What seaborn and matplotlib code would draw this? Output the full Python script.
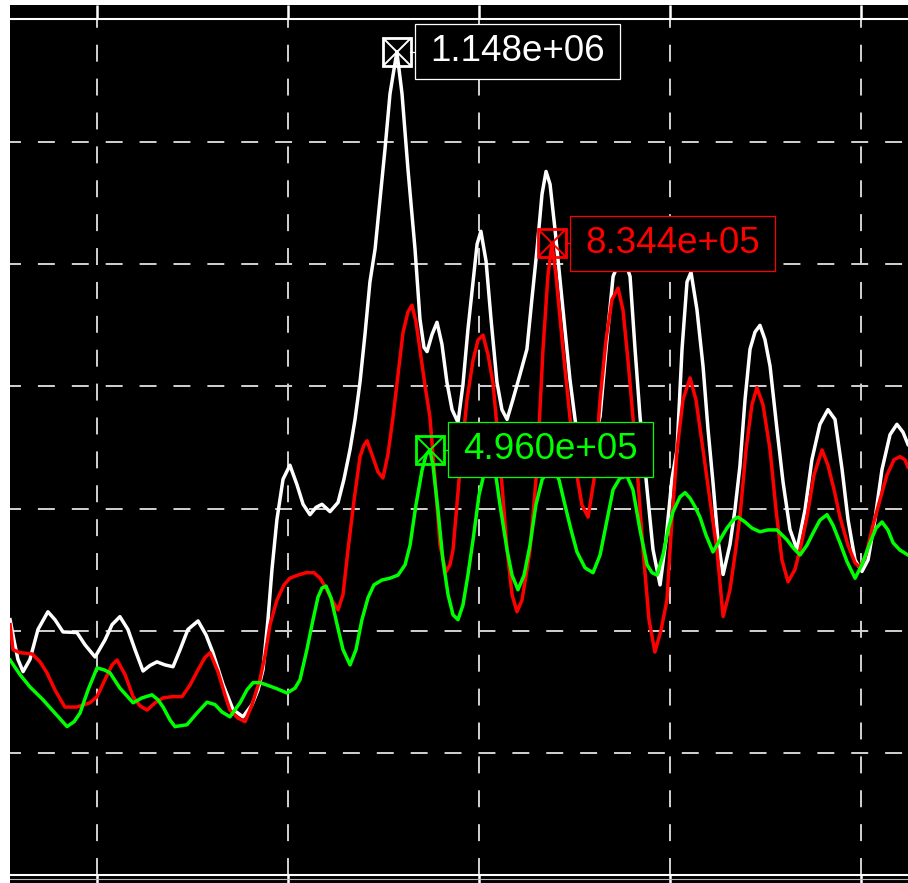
import numpy as np
import pandas as pd
import matplotlib
matplotlib.use('Agg')
import matplotlib.pyplot as plt
import seaborn as sns
from matplotlib.patches import Rectangle
from matplotlib.lines import Line2D
from matplotlib.transforms import IdentityTransform

# trace data (x in grid units, y in counts)
white_x = [0.545, 0.565, 0.586, 0.613, 0.649, 0.691, 0.743, 0.780, 0.822, 0.895, 0.937, 0.990,
           1.042, 1.079, 1.120, 1.162, 1.199, 1.241, 1.277, 1.314, 1.356, 1.398, 1.435, 1.476,
           1.529, 1.571, 1.607, 1.660, 1.712, 1.764, 1.812, 1.843, 1.869, 1.895, 1.916, 1.942,
           1.974, 2.010, 2.047, 2.079, 2.115, 2.147, 2.178, 2.220, 2.262, 2.293, 2.325, 2.351,
           2.377, 2.403, 2.429, 2.456, 2.482, 2.508, 2.534, 2.570, 2.597, 2.628, 2.665, 2.691,
           2.712, 2.728, 2.754, 2.780, 2.806, 2.832, 2.859, 2.890, 2.916, 2.942, 2.969, 2.990,
           3.010, 3.037, 3.063, 3.094, 3.120, 3.147, 3.178, 3.215, 3.251, 3.277, 3.304, 3.330,
           3.351, 3.372, 3.398, 3.424, 3.450, 3.476, 3.503, 3.529, 3.560, 3.592, 3.634, 3.665,
           3.702, 3.738, 3.770, 3.791, 3.817, 3.843, 3.880, 3.911, 3.948, 3.979, 4.010, 4.037,
           4.063, 4.089, 4.110, 4.141, 4.173, 4.199, 4.225, 4.251, 4.278, 4.314, 4.340, 4.366,
           4.393, 4.419, 4.445, 4.471, 4.497, 4.524, 4.560, 4.592, 4.628, 4.665, 4.707, 4.743,
           4.785, 4.827, 4.864, 4.901, 4.932, 4.969, 5.005, 5.037, 5.073, 5.110, 5.152, 5.188,
           5.220, 5.246]
white_y = [218e3, 185e3, 153e3, 133e3, 153e3, 202e3, 231e3, 218e3, 198e3, 197e3, 177e3, 157e3,
           185e3, 210e3, 223e3, 202e3, 169e3, 134e3, 143e3, 149e3, 144e3, 141e3, 169e3, 202e3,
           216e3, 193e3, 164e3, 112e3, 71e3, 59e3, 79e3, 103e3, 136e3, 218e3, 300e3, 382e3,
           448e3, 471e3, 439e3, 407e3, 390e3, 402e3, 407e3, 395e3, 410e3, 448e3, 497e3, 546e3,
           607e3, 685e3, 771e3, 825e3, 907e3, 989e3, 1079e3, 1148e3, 1079e3, 956e3, 825e3, 710e3,
           664e3, 657e3, 685e3, 705e3, 669e3, 607e3, 562e3, 541e3, 603e3, 693e3, 771e3, 833e3,
           854e3, 805e3, 710e3, 607e3, 562e3, 546e3, 579e3, 620e3, 661e3, 743e3, 825e3, 915e3,
           952e3, 931e3, 857e3, 775e3, 693e3, 612e3, 546e3, 489e3, 464e3, 497e3, 551e3, 661e3,
           780e3, 808e3, 800e3, 780e3, 661e3, 551e3, 431e3, 333e3, 275e3, 349e3, 448e3, 497e3,
           661e3, 771e3, 787e3, 726e3, 633e3, 530e3, 443e3, 349e3, 292e3, 341e3, 398e3, 469e3,
           579e3, 661e3, 689e3, 700e3, 677e3, 633e3, 530e3, 443e3, 366e3, 333e3, 398e3, 480e3,
           538e3, 562e3, 546e3, 464e3, 382e3, 316e3, 297e3, 316e3, 382e3, 464e3, 521e3, 538e3,
           525e3, 505e3]

red_x = [0.545, 0.560, 0.597, 0.660, 0.702, 0.738, 0.780, 0.832, 0.895, 0.963, 1.000, 1.042,
         1.079, 1.105, 1.147, 1.189, 1.225, 1.262, 1.304, 1.346, 1.393, 1.445, 1.487, 1.529,
         1.565, 1.592, 1.633, 1.670, 1.696, 1.738, 1.775, 1.812, 1.853, 1.880, 1.906, 1.942,
         1.979, 2.010, 2.052, 2.094, 2.136, 2.168, 2.199, 2.230, 2.262, 2.288, 2.314, 2.346,
         2.377, 2.398, 2.414, 2.440, 2.471, 2.497, 2.523, 2.550, 2.576, 2.602, 2.628, 2.649,
         2.670, 2.691, 2.717, 2.743, 2.770, 2.796, 2.827, 2.848, 2.864, 2.900, 2.937, 2.969,
         2.995, 3.021, 3.047, 3.073, 3.110, 3.147, 3.173, 3.199, 3.225, 3.251, 3.267, 3.304,
         3.335, 3.361, 3.382, 3.403, 3.440, 3.476, 3.508, 3.539, 3.571, 3.602, 3.634, 3.665,
         3.696, 3.728, 3.754, 3.780, 3.806, 3.832, 3.859, 3.890, 3.921, 3.953, 3.984, 4.010,
         4.037, 4.068, 4.105, 4.136, 4.173, 4.209, 4.246, 4.278, 4.314, 4.340, 4.366, 4.398,
         4.429, 4.455, 4.487, 4.524, 4.555, 4.586, 4.618, 4.654, 4.686, 4.717, 4.754, 4.796,
         4.827, 4.859, 4.890, 4.932, 4.969, 4.995, 5.026, 5.063, 5.099, 5.136, 5.173, 5.204,
         5.230, 5.246]
red_y = [210e3, 169e3, 164e3, 162e3, 149e3, 131e3, 103e3, 75e3, 75e3, 82e3, 92e3, 120e3,
         144e3, 152e3, 128e3, 92e3, 77e3, 70e3, 82e3, 90e3, 92e3, 92e3, 111e3, 136e3,
         156e3, 164e3, 133e3, 95e3, 70e3, 57e3, 51e3, 79e3, 120e3, 160e3, 210e3, 250e3,
         275e3, 286e3, 291e3, 295e3, 295e3, 286e3, 270e3, 250e3, 234e3, 259e3, 332e3, 414e3,
         485e3, 504e3, 511e3, 488e3, 460e3, 450e3, 488e3, 550e3, 619e3, 688e3, 722e3, 733e3,
         706e3, 660e3, 602e3, 550e3, 447e3, 340e3, 296e3, 308e3, 332e3, 463e3, 578e3, 643e3,
         676e3, 684e3, 652e3, 606e3, 480e3, 332e3, 259e3, 231e3, 250e3, 300e3, 332e3, 468e3,
         660e3, 782e3, 834.4e3, 782e3, 660e3, 550e3, 463e3, 406e3, 386e3, 447e3, 578e3, 676e3,
         742e3, 761e3, 725e3, 643e3, 550e3, 447e3, 332e3, 218e3, 165e3, 201e3, 250e3, 381e3,
         496e3, 578e3, 614e3, 578e3, 496e3, 414e3, 332e3, 223e3, 267e3, 324e3, 386e3, 496e3,
         570e3, 598e3, 570e3, 496e3, 398e3, 316e3, 280e3, 300e3, 340e3, 386e3, 455e3, 496e3,
         471e3, 431e3, 386e3, 340e3, 311e3, 304e3, 324e3, 373e3, 414e3, 455e3, 480e3, 485e3,
         480e3, 468e3]

green_x = [0.545, 0.597, 0.649, 0.717, 0.780, 0.843, 0.880, 0.911, 0.953, 1.000, 1.037, 1.068,
           1.120, 1.189, 1.236, 1.288, 1.319, 1.346, 1.382, 1.408, 1.471, 1.523, 1.576, 1.618,
           1.654, 1.696, 1.749, 1.785, 1.817, 1.853, 1.890, 1.942, 1.995, 2.037, 2.063, 2.099,
           2.131, 2.157, 2.178, 2.199, 2.225, 2.257, 2.288, 2.325, 2.356, 2.387, 2.419, 2.450,
           2.492, 2.534, 2.576, 2.613, 2.639, 2.670, 2.702, 2.723, 2.743, 2.759, 2.785, 2.811,
           2.838, 2.864, 2.890, 2.916, 2.942, 2.969, 3.000, 3.031, 3.058, 3.084, 3.110, 3.147,
           3.173, 3.204, 3.236, 3.267, 3.298, 3.330, 3.361, 3.387, 3.419, 3.450, 3.482, 3.513,
           3.555, 3.597, 3.634, 3.670, 3.702, 3.738, 3.775, 3.806, 3.843, 3.880, 3.906, 3.932,
           3.963, 3.990, 4.016, 4.052, 4.079, 4.105, 4.131, 4.157, 4.188, 4.225, 4.262, 4.298,
           4.330, 4.356, 4.393, 4.429, 4.471, 4.513, 4.560, 4.612, 4.644, 4.681, 4.717, 4.749,
           4.785, 4.822, 4.853, 4.890, 4.927, 4.969, 5.005, 5.047, 5.079, 5.110, 5.141, 5.168,
           5.204, 5.246]
green_y = [152e3, 128e3, 108e3, 87e3, 65e3, 43e3, 51e3, 65e3, 103e3, 139e3, 136e3, 131e3,
           106e3, 82e3, 90e3, 95e3, 87e3, 75e3, 54e3, 43e3, 46e3, 65e3, 83e3, 79e3,
           67e3, 59e3, 82e3, 103e3, 115e3, 115e3, 111e3, 105e3, 98e3, 106e3, 120e3, 169e3,
           218e3, 255e3, 270e3, 273e3, 254e3, 210e3, 169e3, 144e3, 169e3, 218e3, 254e3, 275e3,
           283e3, 286e3, 291e3, 308e3, 340e3, 406e3, 463e3, 488e3, 496e3, 471e3, 398e3, 316e3,
           259e3, 226e3, 218e3, 242e3, 291e3, 349e3, 422e3, 463e3, 475e3, 463e3, 406e3, 332e3,
           291e3, 267e3, 291e3, 340e3, 406e3, 447e3, 463e3, 467e3, 447e3, 406e3, 365e3, 329e3,
           303e3, 295e3, 324e3, 381e3, 431e3, 450e3, 453e3, 431e3, 365e3, 308e3, 295e3, 291e3,
           324e3, 365e3, 395e3, 419e3, 426e3, 417e3, 403e3, 386e3, 357e3, 329e3, 349e3, 368e3,
           381e3, 386e3, 378e3, 368e3, 362e3, 365e3, 365e3, 349e3, 336e3, 324e3, 340e3, 360e3,
           381e3, 390e3, 373e3, 344e3, 313e3, 286e3, 308e3, 344e3, 368e3, 378e3, 365e3, 344e3,
           332e3, 324e3]

trace_names = ['ch1', 'ch2', 'ch3']
trace_colors = {'ch1': '#ffffff', 'ch2': '#ff0000', 'ch3': '#00ff00'}

df = pd.concat([
    pd.DataFrame({'x': white_x, 'y': white_y, 'trace': 'ch1'}),
    pd.DataFrame({'x': red_x, 'y': red_y, 'trace': 'ch2'}),
    pd.DataFrame({'x': green_x, 'y': green_y, 'trace': 'ch3'}),
], ignore_index=True)

plt.rcParams['lines.scale_dashes'] = False

W, H = 908, 883
fig = plt.figure(figsize=(W / 100, H / 100), dpi=100, facecolor='black')
ax = fig.add_axes([10 / W, 8 / H, 898 / W, 856 / H])
ax.set_facecolor('black')

sns.lineplot(data=df, x='x', y='y', hue='trace', hue_order=trace_names,
             palette=trace_colors, sort=False, estimator=None,
             linewidth=2.5, legend=False, ax=ax, zorder=3)

ax.set_xlim(0.5445, 5.2461)
ax.set_ylim(-2e5, 1.2016e6)
ax.set_xticks([1, 2, 3, 4, 5])
ax.set_yticks([0, 2e5, 4e5, 6e5, 8e5, 1e6])
ax.set_xlabel('')
ax.set_ylabel('')

# dashed grid
ax.xaxis.grid(True, color='#d2d2d2', linewidth=1.4, linestyle=(0, (12.2, 12.2)))
ax.yaxis.grid(True, color='#d2d2d2', linewidth=1.4, linestyle=(4.3, (12.2, 12.2)))
ax.set_axisbelow(True)

ax.tick_params(axis='x', top=True, bottom=True, direction='out', length=10,
               width=1.8, color='white', labelbottom=False, labeltop=False)
ax.tick_params(axis='y', left=False, right=False, labelleft=False)
for side in ['left', 'right']:
    ax.spines[side].set_visible(False)
for side in ['top', 'bottom']:
    ax.spines[side].set_color('white')
    ax.spines[side].set_linewidth(1.5)

# second thin rule just under the bottom axis
fig.add_artist(Line2D([10 / W, 1], [4 / H, 4 / H], transform=fig.transFigure,
                      color='#bbbbbb', linewidth=0.8, zorder=9))

# white page margins
fig.add_artist(Rectangle((0, 0), 10 / W, 1, transform=fig.transFigure,
                         facecolor='white', edgecolor='none', zorder=10))
fig.add_artist(Rectangle((0, 1 - 5 / H), 1, 5 / H, transform=fig.transFigure,
                         facecolor='white', edgecolor='none', zorder=10))

# peak markers with value boxes
for name, xs, ys in [('ch1', white_x, white_y), ('ch2', red_x, red_y), ('ch3', green_x, green_y)]:
    c = trace_colors[name]
    i = int(np.argmax(ys))
    xp, yp = xs[i], ys[i]
    ax.plot([xp], [yp], marker='s', ms=19.5, mfc='none', mec=c, mew=2.0, zorder=5)
    ax.plot([xp], [yp], marker='x', ms=19.5, mec=c, mew=1.4, zorder=5)
    px, py = ax.transData.transform((xp, yp))
    ax.add_artist(Line2D([px + 13, px + 18], [py, py], transform=IdentityTransform(),
                         color=c, linewidth=0.9, zorder=6, clip_on=False))
    ax.add_artist(Rectangle((px + 18, py - 27.5), 205, 55, transform=IdentityTransform(),
                            facecolor='black', edgecolor=c, linewidth=0.9,
                            zorder=6, clip_on=False))
    ax.text(px + 120.5, py, f'{yp:.3e}', transform=IdentityTransform(),
            ha='center', va='center', color=c, fontsize=26.5,
            family=['Liberation Sans', 'DejaVu Sans'], zorder=7, clip_on=False)

fig.savefig('out.png', dpi=100, facecolor='black')
